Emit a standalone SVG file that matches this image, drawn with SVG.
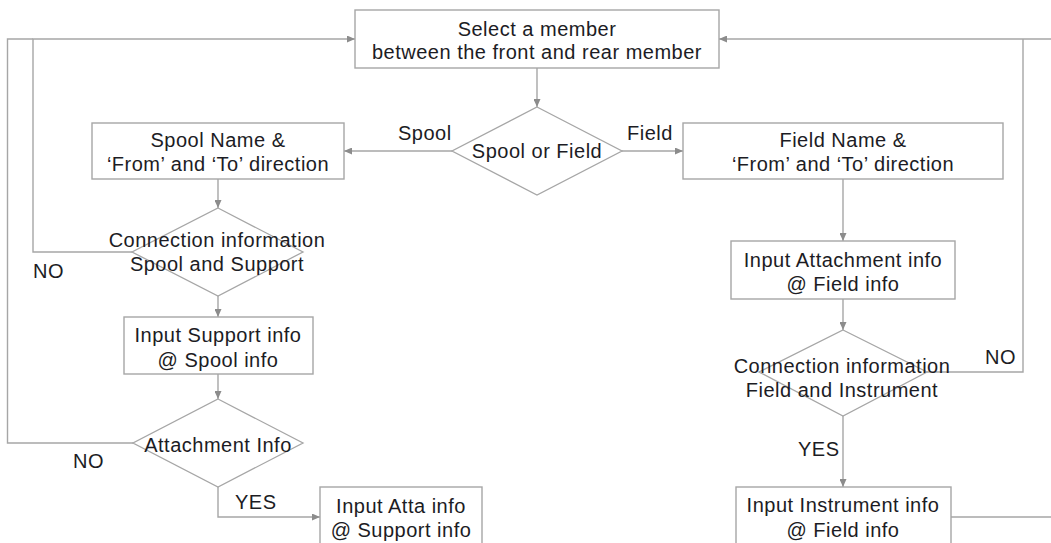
<svg xmlns="http://www.w3.org/2000/svg" width="1051" height="543" viewBox="0 0 1051 543">
<style>
.box{fill:#ffffff;stroke:#a6a6a6;stroke-width:1.4}
.dia{fill:#ffffff;stroke:#a6a6a6;stroke-width:1.3}
.ln{fill:none;stroke:#a6a6a6;stroke-width:1.4}
.t{font-family:"Liberation Sans",Arial,sans-serif;font-size:20px;fill:#1c1c24;text-anchor:middle;letter-spacing:0.5px}
.l{font-family:"Liberation Sans",Arial,sans-serif;font-size:20px;fill:#1c1c24;letter-spacing:0.5px}
</style>
<defs>
<marker id="ah" markerWidth="9" markerHeight="7" refX="8" refY="3.5" orient="auto" markerUnits="userSpaceOnUse">
<path d="M0,0 L8,3.5 L0,7 z" fill="#8c8c8c"/>
</marker>
</defs>
<rect width="1051" height="543" fill="#ffffff"/>
<g id="connectors">
<path class="ln" d="M537,68 V107" marker-end="url(#ah)"/>
<path class="ln" d="M452,151 H344" marker-end="url(#ah)"/>
<path class="ln" d="M622,151 H683" marker-end="url(#ah)"/>
<path class="ln" d="M218,179 V208" marker-end="url(#ah)"/>
<path class="ln" d="M218,296 V317" marker-end="url(#ah)"/>
<path class="ln" d="M218,374 V399" marker-end="url(#ah)"/>
<path class="ln" d="M132,252 H33 V39 H355" marker-end="url(#ah)"/>
<path class="ln" d="M133,443 H7.5 V39 H33"/>
<path class="ln" d="M218,487 V517 H320" marker-end="url(#ah)"/>
<path class="ln" d="M843,179 V241" marker-end="url(#ah)"/>
<path class="ln" d="M843,299 V330" marker-end="url(#ah)"/>
<path class="ln" d="M927,372 H1023 V39"/>
<path class="ln" d="M1051,39 H719" marker-end="url(#ah)"/>
<path class="ln" d="M843,416 V487" marker-end="url(#ah)"/>
<path class="ln" d="M951,517 H1051"/>
</g>
<g id="labels">
<text class="l" x="398" y="140">Spool</text>
<text class="l" x="627" y="140">Field</text>
<text class="l" x="33" y="278">NO</text>
<text class="l" x="73" y="468">NO</text>
<text class="l" x="235" y="509">YES</text>
<text class="l" x="985" y="364">NO</text>
<text class="l" x="798" y="456">YES</text>
</g>
<g id="n-select">
<rect class="box" x="355" y="10" width="364" height="58"/>
<text class="t" x="537" y="36">Select a member</text>
<text class="t" x="537" y="59">between the front and rear member</text>
</g>
<g id="n-spool-or-field">
<polygon class="dia" points="537,107 622,151 537,195 452,151"/>
<text class="t" x="537" y="158">Spool or Field</text>
</g>
<g id="n-spool-name">
<rect class="box" x="92" y="123" width="252" height="56"/>
<text class="t" x="218" y="147">Spool Name &amp;</text>
<text class="t" x="218" y="171">‘From’ and ‘To’ direction</text>
</g>
<g id="n-field-name">
<rect class="box" x="683" y="123" width="320" height="56"/>
<text class="t" x="843" y="147">Field Name &amp;</text>
<text class="t" x="843" y="171">‘From’ and ‘To’ direction</text>
</g>
<g id="n-conn-spool">
<polygon class="dia" points="218,208 303,252 218,296 132,252"/>
<text class="t" x="217" y="247">Connection information</text>
<text class="t" x="217" y="271">Spool and Support</text>
</g>
<g id="n-input-support">
<rect class="box" x="124" y="317" width="189" height="57"/>
<text class="t" x="218" y="342">Input Support info</text>
<text class="t" x="218" y="367">@ Spool info</text>
</g>
<g id="n-attachment">
<polygon class="dia" points="218,399 303,443 218,487 133,443"/>
<text class="t" x="218" y="452">Attachment Info</text>
</g>
<g id="n-input-atta">
<rect class="box" x="320" y="487" width="162" height="60"/>
<text class="t" x="401" y="513">Input Atta info</text>
<text class="t" x="401" y="537">@ Support info</text>
</g>
<g id="n-input-attachment">
<rect class="box" x="731" y="241" width="224" height="58"/>
<text class="t" x="843" y="267">Input Attachment info</text>
<text class="t" x="843" y="291">@ Field info</text>
</g>
<g id="n-conn-field">
<polygon class="dia" points="843,330 927,372 843,416 759,372"/>
<text class="t" x="842" y="373">Connection information</text>
<text class="t" x="842" y="397">Field and Instrument</text>
</g>
<g id="n-input-instrument">
<rect class="box" x="736" y="487" width="215" height="60"/>
<text class="t" x="843" y="512">Input Instrument info</text>
<text class="t" x="843" y="537">@ Field info</text>
</g>
</svg>
